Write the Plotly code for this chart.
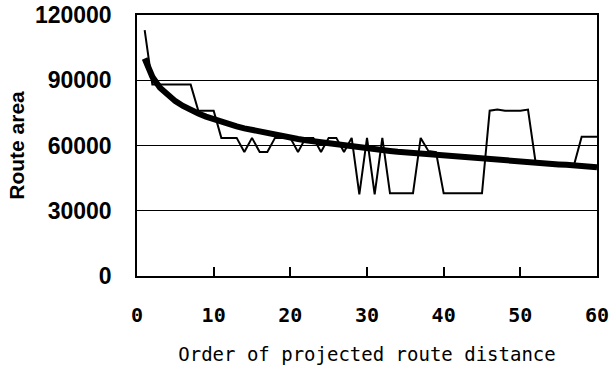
import plotly.graph_objects as go

order = list(range(1, 61))

route_area = [
    113000, 88000, 88000, 88000, 88000, 88000, 88000, 76000, 76000, 76000,
    63500, 63500, 63500, 57000, 63500, 57000, 57000, 63500, 63500, 63500,
    57000, 63500, 63500, 57000, 63500, 63500, 57000, 63500, 37500, 63500,
    37500, 63500, 38000, 38000, 38000, 38000, 63500, 57500, 57000, 38000,
    38000, 38000, 38000, 38000, 38000, 76000, 76500, 76000, 76000, 76000,
    76500, 52000, 51500, 51000, 51000, 51000, 51000, 64000, 64000, 64000,
]

trend = [
    100000, 91600, 86600, 83100, 80400, 78200, 76300, 74700, 73300, 72000,
    70800, 69800, 68800, 67900, 67100, 66300, 65500, 64900, 64200, 63600,
    63000, 62400, 61900, 61400, 60900, 60400, 59900, 59500, 59100, 58600,
    58200, 57900, 57500, 57100, 56800, 56400, 56100, 55800, 55500, 55100,
    54800, 54500, 54300, 54000, 53700, 53400, 53200, 52900, 52700, 52400,
    52200, 52000, 51700, 51500, 51300, 51100, 50800, 50600, 50300, 50000,
]

x_ticks = [0, 10, 20, 30, 40, 50, 60]
y_ticks = [0, 30000, 60000, 90000, 120000]

fig = go.Figure()
fig.add_trace(go.Scatter(x=order, y=trend, mode="lines",
                         line=dict(color="black", width=6), showlegend=False))
fig.add_trace(go.Scatter(x=order, y=route_area, mode="lines",
                         line=dict(color="black", width=2), showlegend=False))

fig.update_layout(
    width=611, height=368,
    margin=dict(l=137, r=14, t=15, b=92),
    paper_bgcolor="white", plot_bgcolor="white",
    showlegend=False,
)
fig.update_xaxes(
    range=[0, 60], tickvals=x_ticks, ticktext=[str(v) for v in x_ticks],
    automargin=False,
    showline=True, linecolor="black", linewidth=1.5, mirror=True,
    showgrid=False, zeroline=False,
    ticks="inside", ticklen=9, tickcolor="black", tickwidth=1.5,
    tickfont=dict(family="DejaVu Sans Mono", size=20, color="black", weight="bold"),
    ticklabelstandoff=20,
    title=dict(text="Order of projected route distance",
               font=dict(family="DejaVu Sans Mono", size=19, color="black"),
               standoff=22),
)
fig.update_yaxes(
    range=[0, 120000], tickvals=y_ticks, ticktext=[str(v) for v in y_ticks],
    automargin=False,
    showline=True, linecolor="black", linewidth=1.5, mirror=True,
    showgrid=True, gridcolor="black", gridwidth=1, zeroline=False,
    ticks="",
    tickfont=dict(family="Liberation Sans", size=23, color="black", weight="bold"),
    ticklabelstandoff=19,
    title=dict(text="Route area",
               font=dict(family="Liberation Sans", size=21, color="black", weight="bold"),
               standoff=5),
)

fig.write_html(
    "out.html",
    config={"displayModeBar": False},
    post_script=(
        "document.body.style.margin='0';"
        "document.body.style.overflow='hidden';"
        "document.documentElement.style.overflow='hidden';"
    ),
)
